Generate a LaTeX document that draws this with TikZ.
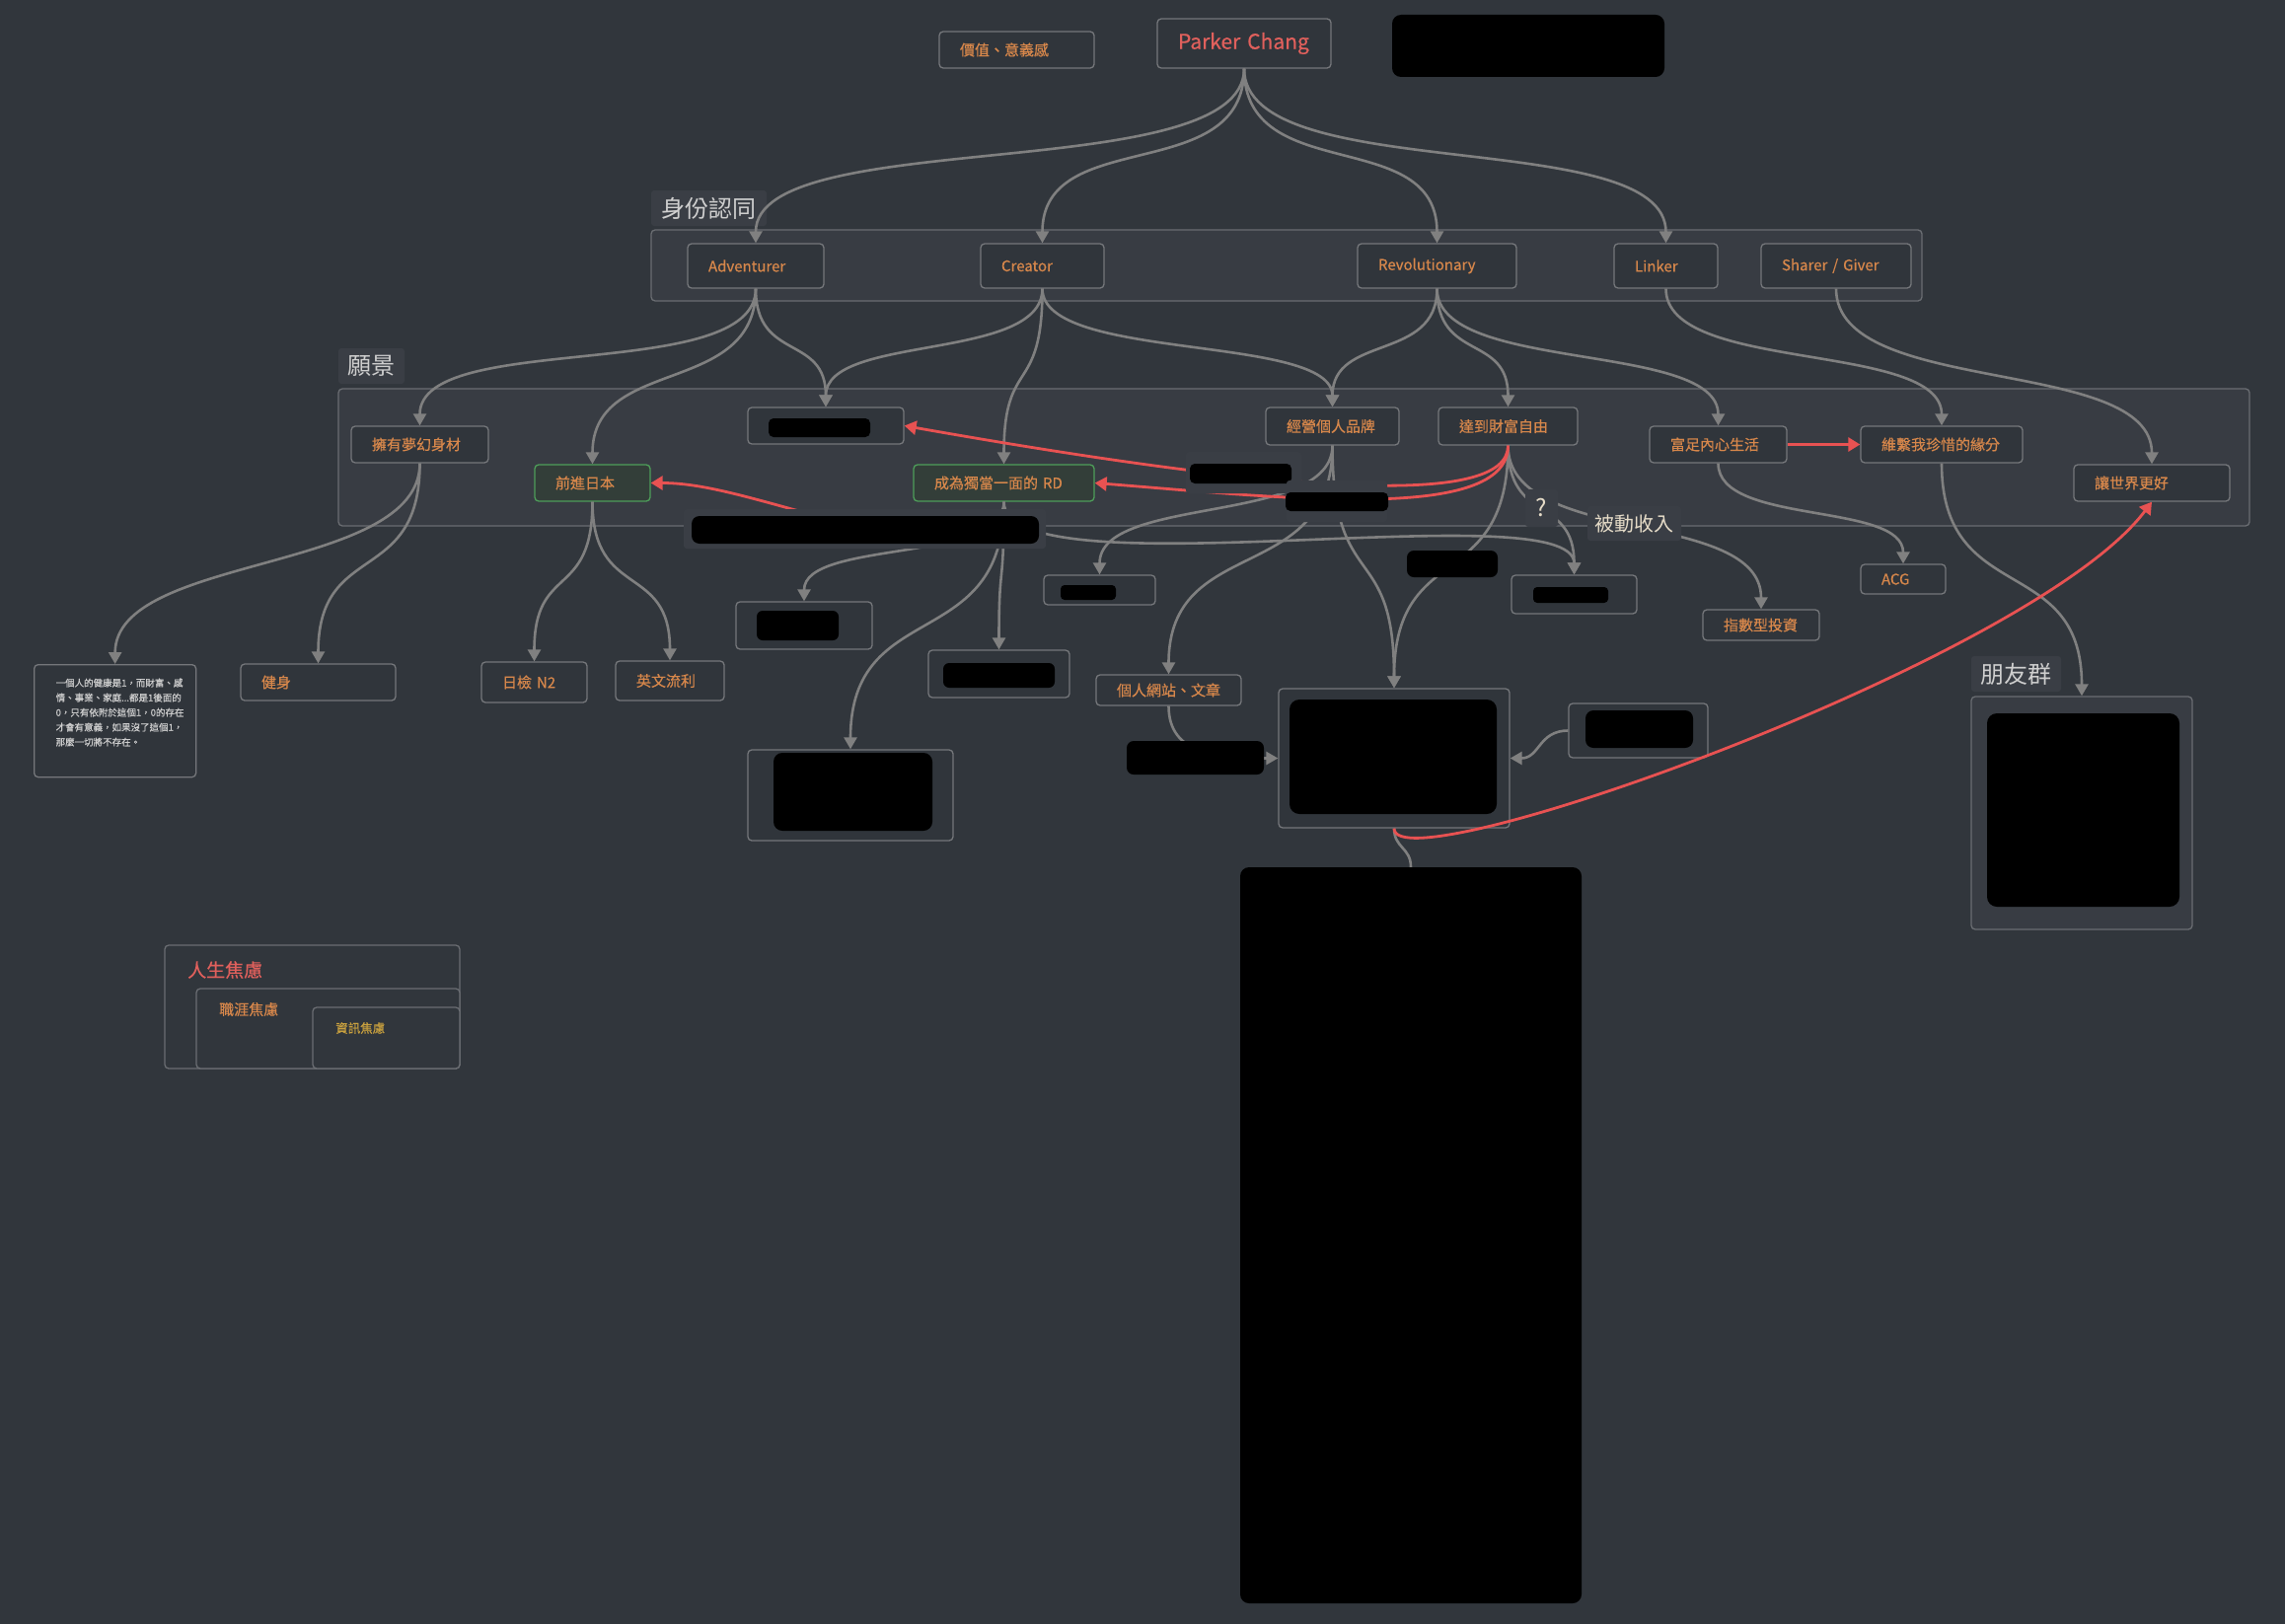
\documentclass[tikz,border=0pt]{standalone}
\usepackage{fontspec}
\setmainfont{Noto Sans CJK TC}
\newfontfamily\nfont{Noto Sans CJK TC}[FakeBold=0.5]
\usetikzlibrary{arrows.meta,calc}
\definecolor{bgc}{HTML}{31363C}
\definecolor{grpfill}{HTML}{383C43}
\definecolor{grpline}{HTML}{6A6D72}
\definecolor{ndfill}{HTML}{30353B}
\definecolor{ndline}{HTML}{75777B}
\definecolor{orgT}{HTML}{D7874B}
\definecolor{redT}{HTML}{E0605C}
\definecolor{lblfill}{HTML}{3A3E45}
\definecolor{lblT}{HTML}{CFCFCF}
\definecolor{beigeT}{HTML}{E6DCC8}
\definecolor{grnline}{HTML}{4E9E5A}
\definecolor{grnfill}{HTML}{333E39}
\definecolor{edgeG}{HTML}{808080}
\definecolor{edgeR}{HTML}{E85252}
\definecolor{yelT}{HTML}{C9A13F}
\pgfdeclarelayer{back}
\pgfdeclarelayer{front}
\pgfsetlayers{back,main,front}
\begin{document}
\begin{tikzpicture}[x=1pt,y=-1pt,
  grp/.style={draw=grpline, fill=grpfill, line width=1.3pt, rounded corners=4pt},
  abox/.style={draw=grpline, fill=bgc, line width=1.3pt, rounded corners=4pt},
  ttl/.style={fill=lblfill, rounded corners=3pt, text=lblT, font=\fontsize{24}{26}\selectfont, inner sep=0pt},
  nd/.style={draw=ndline, fill=ndfill, line width=1.3pt, rounded corners=4pt, text=orgT,
     font=\nfont\fontsize{15}{18}\selectfont, inner xsep=21pt, inner ysep=0pt, align=left},
  gn/.style={nd, draw=grnline, fill=grnfill},
  blk/.style={fill=black, rounded corners=6pt},
  blkn/.style={fill=black, rounded corners=7pt, inner sep=0pt},
  elbl/.style={fill=lblfill, rounded corners=3pt, inner sep=0pt, text=beigeT, font=\fontsize{20}{22}\selectfont},
  ge/.style={draw=edgeG, line width=2.6pt, -{Triangle[length=12pt,width=13pt]}},
  re/.style={draw=edgeR, line width=2.8pt, -{Triangle[length=12pt,width=14pt]}},
  vs/.style={to path={let \p1=(\tikztostart), \p2=(\tikztotarget), \n1={#1*(\y1-\y2)} in
     .. controls ([yshift={-1*\n1}]\tikztostart) and ([yshift=\n1]\tikztotarget) .. (\tikztotarget)}},
  vs/.default=0.62
]
\useasboundingbox (0,0) rectangle (2316,1646);
\begin{pgfonlayer}{back}
\fill[bgc] (0,0) rectangle (2316,1646);
\draw[grp] (660,233) rectangle (1948,305);
\draw[grp] (343,394) rectangle (2280,533);
\end{pgfonlayer}

% titles
\node[ttl, minimum width=117pt, minimum height=36pt] (tId) at (718.5,211) {身份認同};
\node[ttl, minimum width=67pt, minimum height=36pt] (tVi) at (376.5,371) {願景};
\node[ttl, minimum width=91pt, minimum height=36pt] (tFr) at (2043.5,683) {朋友群};

% top
\node[nd, text width=115pt, minimum height=37pt] (val) at (1030.5,50.5) {價值、意義感};
\node[nd, text=redT, font=\nfont\fontsize{21}{24}\selectfont, text width=134pt, minimum height=50pt] (pc) at (1261,44) {\mbox{Parker Chang}};
\node[blkn, minimum width=276pt, minimum height=63pt, rounded corners=9pt] (topb) at (1549,46.5) {};

% identity
\node[nd, text width=96pt, minimum height=45pt] (adv) at (766,269.5) {Adventurer};
\node[nd, text width=83pt, minimum height=45pt] (cre) at (1056.5,269.5) {Creator};
\node[nd, text width=119pt, minimum height=45pt] (rev) at (1456.5,269.5) {Revolutionary};
\node[nd, text width=63pt, minimum height=45pt] (lnk) at (1688.5,269.5) {Linker};
\node[nd, text width=110pt, minimum height=45pt] (shg) at (1861,269.5) {\mbox{Sharer / Giver}};

% vision
\node[nd, text width=97pt, minimum height=37pt] (body) at (425.5,450.5) {擁有夢幻身材};
\node[gn, text width=75pt, minimum height=37pt] (japan) at (600.5,489.5) {前進日本};
\node[nd, minimum width=158pt, minimum height=37pt] (redA) at (837,431.5) {};
\fill[blk, rounded corners=5pt] (779,424) rectangle (882,443);
\node[gn, text width=141pt, minimum height=37pt] (rd) at (1017.5,489.5) {\mbox{成為獨當一面的 RD}};
\node[nd, text width=93pt, minimum height=38pt] (brand) at (1350.5,432) {經營個人品牌};
\node[nd, text width=99pt, minimum height=38pt] (wealth) at (1528.5,432) {達到財富自由};
\node[nd, text width=97pt, minimum height=37pt] (inner) at (1741.5,450.5) {富足內心生活};
\node[nd, text width=122pt, minimum height=37pt] (bond) at (1968,450.5) {維繫我珍惜的緣分};
\node[nd, text width=116pt, minimum height=37pt] (world) at (2181,489.5) {讓世界更好};

% lower left
\node[nd, text=lblT, inner xsep=18pt, inner ysep=14pt, font=\nfont\fontsize{9.5}{15}\selectfont, anchor=north west] (note) at (34,673)
 {\parbox[t][86pt][t]{128pt}{\leftskip=4pt 一個人的健康是1，而財富、感\\情、事業、家庭...都是1後面的\\0，只有依附於這個1，0的存在\\才會有意義，如果沒了這個1，\\那麼一切將不存在。}};
\node[nd, text width=115pt, minimum height=37pt] (fit) at (322.5,691.5) {健身};
\node[nd, text width=65pt, minimum height=41pt] (n2) at (541.5,691.5) {\mbox{日檢 N2}};
\node[nd, text width=68pt, minimum height=40pt] (eng) at (679,690) {英文流利};

% redacted boxes
\node[nd, minimum width=138pt, minimum height=48pt] (boxA) at (815,634) {};
\fill[blk] (767,619) rectangle (850,649);
\node[nd, minimum width=143pt, minimum height=48pt] (boxB) at (1012.5,683) {};
\fill[blk] (956,672) rectangle (1069,697);
\node[nd, minimum width=208pt, minimum height=92pt] (boxC) at (862,806) {};
\fill[blk, rounded corners=9pt] (784,763) rectangle (945,842);
\node[nd, minimum width=113pt, minimum height=30pt] (boxD) at (1114.5,598) {};
\fill[blk, rounded corners=4pt] (1075,593) rectangle (1131,608);
\node[nd, minimum width=127pt, minimum height=39pt] (boxE) at (1595.5,602.5) {};
\fill[blk, rounded corners=4pt] (1554,595) rectangle (1630,611);

% right lower
\node[nd, text width=44pt, minimum height=30pt] (acg) at (1929,587) {ACG};
\node[nd, text width=76pt, minimum height=31pt] (idx) at (1785,633.5) {指數型投資};
\node[nd, text width=105pt, minimum height=31pt] (site) at (1184.5,699.5) {個人網站、文章};
\node[nd, minimum width=234pt, minimum height=141pt] (center) at (1413,768.5) {};
\fill[blk, rounded corners=10pt] (1307,709) rectangle (1517,825);
\node[nd, minimum width=141pt, minimum height=55pt] (smallR) at (1660.5,740.5) {};
\fill[blk, rounded corners=8pt] (1607,720) rectangle (1716,758);
\node[grp, minimum width=224pt, minimum height=236pt, inner sep=0pt] (friends) at (2110,824) {};
\fill[blk, rounded corners=10pt] (2014,723) rectangle (2209,919);

% anxiety
\node[abox, minimum width=299pt, minimum height=125pt, inner sep=0pt] (anxO) at (316.5,1020.5) {};
\node[abox, minimum width=267pt, minimum height=81pt, inner sep=0pt] (anxM) at (332.5,1042.5) {};
\node[abox, minimum width=149pt, minimum height=62pt, inner sep=0pt] (anxI) at (391.5,1052) {};
\node[anchor=west, inner sep=0pt, text=redT, font=\nfont\fontsize{19}{21}\selectfont] (tA) at (190,983) {人生焦慮};
\node[anchor=west, inner sep=0pt, text=orgT, font=\nfont\fontsize{15}{17}\selectfont] (tB) at (222,1023) {職涯焦慮};
\node[anchor=west, inner sep=0pt, text=yelT, font=\nfont\fontsize{12.5}{14}\selectfont] (tC) at (340,1042) {資訊焦慮};

% huge redacted
\node[blkn, minimum width=346pt, minimum height=746pt, rounded corners=9pt] (huge) at (1430,1252) {};

% gray edges
\draw[ge] (pc.south) to[vs=0.68] (adv.north);
\draw[ge] (pc.south) to[vs=0.68] (cre.north);
\draw[ge] (pc.south) to[vs=0.68] (rev.north);
\draw[ge] (pc.south) to[vs=0.68] (lnk.north);
\draw[ge] (adv.south) to[vs=0.7] (body.north);
\draw[ge] (adv.south) to[vs] (japan.north);
\draw[ge] (adv.south) to[vs] (redA.north);
\draw[ge] (cre.south) to[vs] (redA.north);
\draw[ge] (cre.south) to[vs] (rd.north);
\draw[ge] (cre.south) to[vs] (brand.north);
\draw[ge] (rev.south) to[vs] (brand.north);
\draw[ge] (rev.south) to[vs] (wealth.north);
\draw[ge] (rev.south) to[vs] (inner.north);
\draw[ge] (lnk.south) to[vs] (bond.north);
\draw[ge] (shg.south) to[vs] (world.north);
\draw[ge] (body.south) to[vs=0.55] (note.north);
\draw[ge] (body.south) to[vs] (fit.north);
\draw[ge] (japan.south) to[vs] (n2.north);
\draw[ge] (japan.south) to[vs] (eng.north);
\draw[ge] (rd.south) to[vs] (boxA.north);
\draw[ge] (rd.south) to[vs] (boxB.north);
\draw[ge] (rd.south) to[vs] (boxC.north);
\draw[ge] (rd.south) .. controls +(0,95) and +(0,-85) .. (boxE.north);
\draw[ge] (brand.south) to[vs] (boxD.north);
\draw[ge] (brand.south) to[vs] (site.north);
\draw[ge] (brand.south) to[vs] (center.north);
\draw[ge] (wealth.south) to[vs] (center.north);
\draw[ge] (wealth.south) to[vs] (boxE.north);
\draw[ge] (wealth.south) to[vs] (idx.north);
\draw[ge] (inner.south) to[vs] (acg.north);
\draw[ge] (bond.south) to[vs] (friends.north);
\draw[ge] (site.south) .. controls +(0,50) and +(-60,0) .. (center.west);
\draw[ge] (smallR.west) .. controls +(-30,0) and +(30,0) .. (center.east);
\draw[ge, -] (center.south) .. controls +(0,20) and +(0,-20) .. (huge.north);

% red edges
\draw[re] (wealth.south) .. controls +(0,64) and +(384,68) .. (redA.east);
\draw[re] (wealth.south) .. controls +(0,79) and +(191,15) .. (rd.east);
\draw[re] (inner.east) -- (bond.west);
\draw[re] (center.south) .. controls +(0,60) and +(-120,160) .. (world.south);

% edge labels (front)
\begin{pgfonlayer}{front}
\node[elbl, minimum width=367pt, minimum height=40pt] (bar) at (876.5,536) {};
\fill[blk, rounded corners=8pt] (701,523) rectangle (1053,551);
\node[elbl, minimum width=117pt, minimum height=42pt] (lab1) at (1260.5,479) {};
\fill[blk, rounded corners=5pt] (1206,470) rectangle (1309,490);
\node[elbl, minimum width=102pt, minimum height=42pt] (lab2) at (1355,508) {};
\fill[blk, rounded corners=5pt] (1303,499) rectangle (1407,518);
\node[elbl, minimum width=33pt, minimum height=38pt, font=\fontsize{24}{26}\selectfont] (q) at (1562.5,515) {?};
\node[elbl, minimum width=95pt, minimum height=35pt] (pas) at (1656.5,530.5) {被動收入};
\node[blkn, minimum width=92pt, minimum height=27pt] (bR) at (1472,571.5) {};
\node[blkn, minimum width=139pt, minimum height=34pt] (bL) at (1211.5,768) {};
\end{pgfonlayer}
\draw[re] (bar.center) .. controls +(-100,-26) and +(60,0) .. (japan.east);
\end{tikzpicture}
\end{document}
